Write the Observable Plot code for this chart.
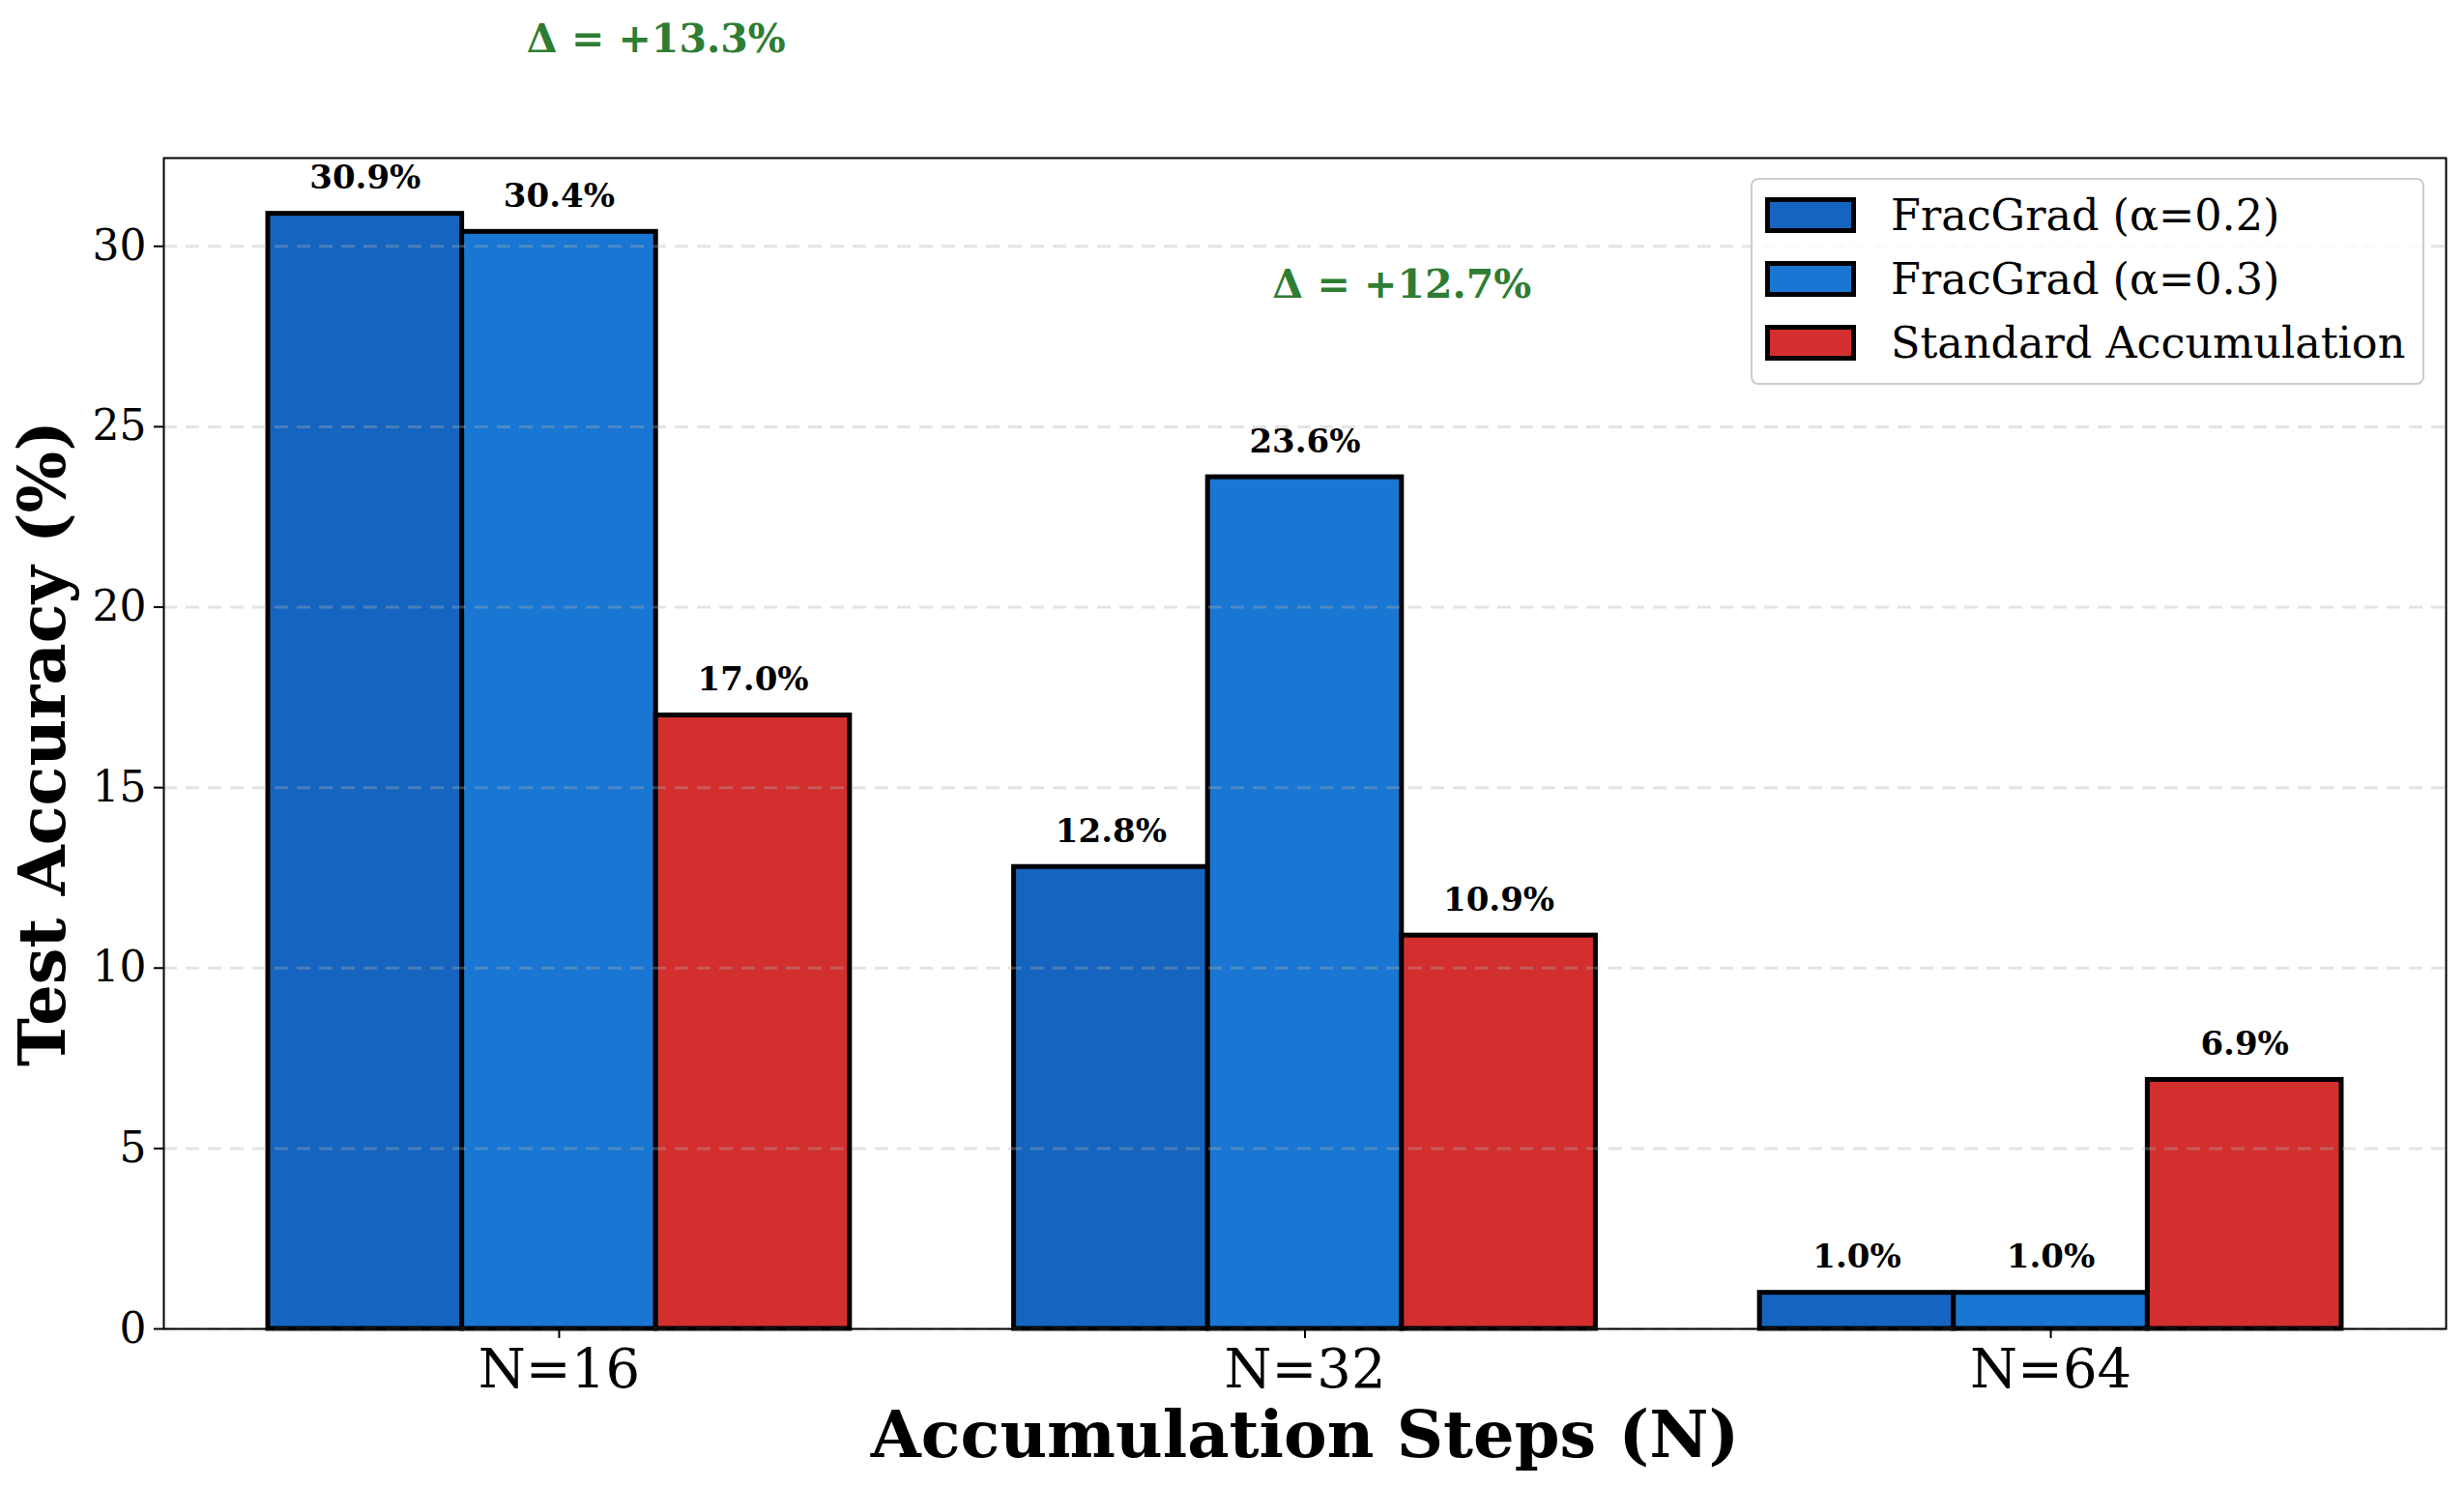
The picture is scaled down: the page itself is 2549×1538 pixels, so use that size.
<!DOCTYPE html>
<html><head><meta charset="utf-8">
<script src="https://cdn.jsdelivr.net/npm/d3@7"></script>
<script src="https://cdn.jsdelivr.net/npm/@observablehq/plot@0.6"></script>
<style>
body{margin:0;background:#fff;}
#wrap{position:relative;width:2549px;height:1538px;}
#legend{position:absolute;left:1811px;top:184px;width:697px;height:214px;box-sizing:border-box;border:2px solid #cccccc;border-radius:8px;background:rgba(255,255,255,0.8);font-family:"DejaVu Serif";font-size:44.5px;padding-top:3px;color:#000;}
.row{display:flex;align-items:center;height:66px;padding-left:13px;white-space:nowrap;}
.sw{width:94px;height:37px;box-sizing:border-box;border:5px solid #000;margin-right:36px;flex:none;}
</style></head>
<body><div id="wrap"><div id="chart"></div><div id="legend"></div></div>
<script>
const categories = ["N=16", "N=32", "N=64"];
const methods = ["FracGrad (α=0.2)", "FracGrad (α=0.3)", "Standard Accumulation"];
const fracgrad02 = [30.9, 12.8, 1.0];
const fracgrad03 = [30.4, 23.6, 1.0];
const standard = [17.0, 10.9, 6.9];
const colors = ["#1565C0", "#1976D2", "#D32F2F"];
const deltaLabels = ["Δ = +13.3%", "Δ = +12.7%", null];
const yTicks = [0, 5, 10, 15, 20, 25, 30];

const W = 0.26;
const series = [fracgrad02, fracgrad03, standard];
const rows = [];
categories.forEach((c, ci) => {
  series.forEach((vals, mi) => {
    const x1 = ci + (mi - 1) * W - W / 2;
    rows.push({cat: c, ci, method: methods[mi], value: vals[ci], x1, x2: x1 + W, xc: x1 + W / 2});
  });
});
// delta annotation (FracGrad α=0.3 vs Standard), placed above the α=0.3 bar height
const deltas = [];
categories.forEach((c, ci) => {
  if (deltaLabels[ci]) {
    deltas.push({x: ci + W / 2, y: fracgrad03[ci] + 5, text: deltaLabels[ci]});
  }
});

const chart = Plot.plot({
  width: 2549, height: 1538,
  marginLeft: 169, marginRight: 19, marginTop: 163, marginBottom: 164,
  style: {fontFamily: "DejaVu Serif", background: "#fff", color: "#000", overflow: "visible"},
  x: {type: "linear", domain: [-0.53, 2.53]},
  y: {domain: [0, 32.445]},
  color: {domain: methods, range: colors},
  marks: [
    Plot.rectY(rows, {x1: "x1", x2: "x2", y1: 0, y2: "value", fill: "method", stroke: "#000", strokeWidth: 5}),
    Plot.ruleY(yTicks, {stroke: "#b0b0b0", strokeOpacity: 0.34, strokeWidth: 3, strokeDasharray: "14,9"}),
    Plot.text(rows, {x: "xc", y: "value", text: d => d.value.toFixed(1) + "%", lineAnchor: "bottom", dy: -26, fontSize: 34, fontWeight: "bold", fill: "#000"}),
    Plot.text(deltas, {x: "x", y: "y", text: "text", lineAnchor: "bottom", dy: 1, fontSize: 41, fontWeight: "bold", fill: "#2E7D32"}),
    Plot.axisY({ticks: yTicks, tickSize: 10, tickPadding: 8, fontSize: 44, label: null, strokeWidth: 2}),
    Plot.axisX({ticks: [0, 1, 2], tickFormat: i => categories[i], tickSize: 10, tickPadding: 11, fontSize: 56, label: null, strokeWidth: 2}),
    Plot.text(["Test Accuracy (%)"], {frameAnchor: "left", dx: -124, rotate: -90, textAnchor: "middle", fontSize: 67, fontWeight: "bold", fill: "#000", lineAnchor: "middle"}),
    Plot.text(["Accumulation Steps (N)"], {frameAnchor: "bottom", dy: 111, textAnchor: "middle", fontSize: 67, fontWeight: "bold", fill: "#000", lineAnchor: "middle"}),
    Plot.frame({stroke: "#000", strokeWidth: 2})
  ]
});
document.getElementById("chart").appendChild(chart);

const legend = document.getElementById("legend");
methods.forEach((m, i) => {
  const row = document.createElement("div");
  row.className = "row";
  const sw = document.createElement("div");
  sw.className = "sw";
  sw.style.background = colors[i];
  const t = document.createElement("span");
  t.textContent = m;
  row.appendChild(sw);
  row.appendChild(t);
  legend.appendChild(row);
});
</script>
</body></html>
